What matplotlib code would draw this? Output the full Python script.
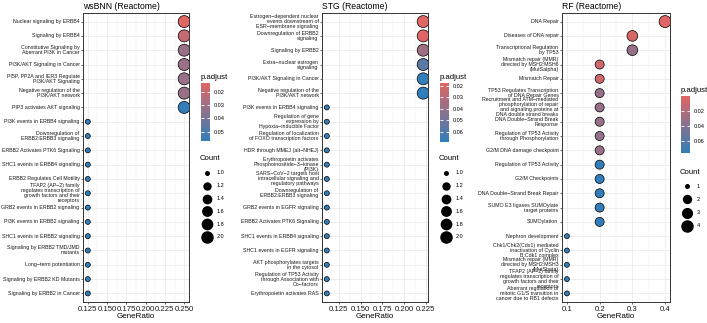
import numpy as np
import matplotlib
matplotlib.use("Agg")
import matplotlib.pyplot as plt
from matplotlib.colors import LinearSegmentedColormap, Normalize
from matplotlib.cm import ScalarMappable

plt.rcParams['font.family'] = ['Liberation Sans', 'DejaVu Sans']

# ---- wsBNN panel ----
ws_terms = [
    "Nuclear signaling by ERBB4",
    "Signaling by ERBB4",
    "Constitutive Signaling by\nAberrant PI3K in Cancer",
    "PI3K/AKT Signaling in Cancer",
    "PI5P, PP2A and IER3 Regulate\nPI3K/AKT Signaling",
    "Negative regulation of the\nPI3K/AKT network",
    "PIP3 activates AKT signaling",
    "PI3K events in ERBB4 signaling",
    "Downregulation of\nERBB2:ERBB3 signaling",
    "ERBB2 Activates PTK6 Signaling",
    "SHC1 events in ERBB4 signaling",
    "ERBB2 Regulates Cell Motility",
    "TFAP2 (AP\u22122) family\nregulates transcription of\ngrowth factors and their\nreceptors",
    "GRB2 events in ERBB2 signaling",
    "PI3K events in ERBB2 signaling",
    "SHC1 events in ERBB2 signaling",
    "Signaling by ERBB2 TMD/JMD\nmutants",
    "Long\u2212term potentiation",
    "Signaling by ERBB2 KD Mutants",
    "Signaling by ERBB2 in Cancer",
]
ws_ratio = [0.25, 0.25, 0.25, 0.25, 0.25, 0.25, 0.25,
            0.125, 0.125, 0.125, 0.125, 0.125, 0.125, 0.125,
            0.125, 0.125, 0.125, 0.125, 0.125, 0.125]
ws_count = [2, 2, 2, 2, 2, 2, 2, 1, 1, 1, 1, 1, 1, 1, 1, 1, 1, 1, 1, 1]
ws_padj = [0.0132, 0.0198, 0.031, 0.031, 0.031, 0.031, 0.0571,
           0.0571, 0.0571, 0.0571, 0.0571, 0.0571, 0.0571, 0.0571,
           0.0571, 0.0571, 0.0571, 0.0571, 0.0571, 0.0571]
ws_xticks = [0.125, 0.150, 0.175, 0.200, 0.225, 0.250]
ws_cbticks = [0.02, 0.03, 0.04, 0.05]
ws_breaks = [1.0, 1.2, 1.4, 1.6, 1.8, 2.0]

# ---- STG panel ----
stg_terms = [
    "Estrogen\u2212dependent nuclear\nevents downstream of\nESR\u2212membrane signaling",
    "Downregulation of ERBB2\nsignaling",
    "Signaling by ERBB2",
    "Extra\u2212nuclear estrogen\nsignaling",
    "PI3K/AKT Signaling in Cancer",
    "Negative regulation of the\nPI3K/AKT network",
    "PI3K events in ERBB4 signaling",
    "Regulation of gene\nexpression by\nHypoxia\u2212inducible Factor",
    "Regulation of localization\nof FOXO transcription factors",
    "HDR through MMEJ (alt\u2212NHEJ)",
    "Erythropoietin activates\nPhosphoinositide\u22123\u2212kinase\n(PI3K)",
    "SARS\u2212CoV\u22122 targets host\nintracellular signaling and\nregulatory pathways",
    "Downregulation of\nERBB2:ERBB3 signaling",
    "GRB2 events in EGFR signaling",
    "ERBB2 Activates PTK6 Signaling",
    "SHC1 events in ERBB4 signaling",
    "SHC1 events in EGFR signaling",
    "AKT phosphorylates targets\nin the cytosol",
    "Regulation of TP53 Activity\nthrough Association with\nCo\u2212factors",
    "Erythropoietin activates RAS",
]
stg_ratio = [0.2222, 0.2222, 0.2222, 0.2222, 0.2222, 0.2222,
             0.1111, 0.1111, 0.1111, 0.1111, 0.1111, 0.1111, 0.1111,
             0.1111, 0.1111, 0.1111, 0.1111, 0.1111, 0.1111, 0.1111]
stg_count = [2, 2, 2, 2, 2, 2, 1, 1, 1, 1, 1, 1, 1, 1, 1, 1, 1, 1, 1, 1]
stg_padj = [0.0174, 0.018, 0.037, 0.057, 0.0687, 0.0687,
            0.0687, 0.0687, 0.0687, 0.0687, 0.0687, 0.0687, 0.0687,
            0.0687, 0.0687, 0.0687, 0.0687, 0.0687, 0.0687, 0.0687]
stg_xticks = [0.125, 0.150, 0.175, 0.200, 0.225]
stg_cbticks = [0.02, 0.03, 0.04, 0.05, 0.06]
stg_breaks = [1.0, 1.2, 1.4, 1.6, 1.8, 2.0]

# ---- RF panel ----
rf_terms = [
    "DNA Repair",
    "Diseases of DNA repair",
    "Transcriptional Regulation\nby TP53",
    "Mismatch repair (MMR)\ndirected by MSH2:MSH6\n(MutSalpha)",
    "Mismatch Repair",
    "TP53 Regulates Transcription\nof DNA Repair Genes",
    "Recruitment and ATM\u2212mediated\nphosphorylation of repair\nand signaling proteins at\nDNA double strand breaks",
    "DNA Double\u2212Strand Break\nResponse",
    "Regulation of TP53 Activity\nthrough Phosphorylation",
    "G2/M DNA damage checkpoint",
    "Regulation of TP53 Activity",
    "G2/M Checkpoints",
    "DNA Double\u2212Strand Break Repair",
    "SUMO E3 ligases SUMOylate\ntarget proteins",
    "SUMOylation",
    "Nephron development",
    "Chk1/Chk2(Cds1) mediated\ninactivation of Cyclin\nB:Cdk1 complex",
    "Mismatch repair (MMR)\ndirected by MSH2:MSH3\n(MutSbeta)",
    "TFAP2 (AP\u22122) family\nregulates transcription of\ngrowth factors and their\nreceptors",
    "Aberrant regulation of\nmitotic G1/S transition in\ncancer due to RB1 defects",
]
rf_ratio = [0.4, 0.3, 0.3, 0.2, 0.2, 0.2, 0.2, 0.2, 0.2, 0.2,
            0.2, 0.2, 0.2, 0.2, 0.2, 0.1, 0.1, 0.1, 0.1, 0.1]
rf_count = [4, 3, 3, 2, 2, 2, 2, 2, 2, 2, 2, 2, 2, 2, 2, 1, 1, 1, 1, 1]
rf_padj = [0.0004, 0.005, 0.033, 0.008, 0.008, 0.032, 0.032, 0.032, 0.032, 0.032,
           0.0764, 0.0764, 0.0764, 0.0764, 0.0764, 0.0764, 0.0764, 0.0764, 0.0764, 0.0764]
rf_xticks = [0.1, 0.2, 0.3, 0.4]
rf_cbticks = [0.02, 0.04, 0.06]
rf_breaks = [1, 2, 3, 4]

W, H = 707, 323
fig = plt.figure(figsize=(W / 100, H / 100), dpi=100)
cmap = LinearSegmentedColormap.from_list("padj", ["#e06663", "#327eba"])


def box(l, t, r, b):
    return [l / W, 1 - b / H, (r - l) / W, (b - t) / H]


def dot_area(c, cmin, cmax, dmax=12):
    # ggplot-like area scale: diameter in px from 5 to dmax
    t = (np.asarray(c, float) - cmin) / (cmax - cmin)
    d = 5 + np.sqrt(t) * (dmax - 5)
    return (d * 0.72) ** 2


def panel(ax_px, cb_px, leg_px, title, terms, ratio, count, padj,
          xticks, xfmt, cbticks, breaks, leg_step):
    ax = fig.add_axes(box(*ax_px))
    n = len(terms)
    ypos = np.arange(n)[::-1]
    cmin, cmax = min(count), max(count)
    norm = Normalize(min(padj), max(padj))
    ax.scatter(ratio, ypos, s=dot_area(count, cmin, cmax), c=padj, cmap=cmap,
               norm=norm, edgecolors="black", linewidths=0.5, zorder=3)
    lo, hi = min(ratio), max(ratio)
    pad = 0.05 * (hi - lo)
    ax.set_xlim(lo - pad, hi + pad)
    ax.set_ylim(-0.6, n - 0.4)
    ax.set_xticks(xticks)
    ax.set_xticklabels([xfmt.format(v) for v in xticks])
    mids = [(a + b) / 2 for a, b in zip(xticks[:-1], xticks[1:])]
    ax.set_xticks(mids, minor=True)
    ax.set_yticks(ypos)
    ax.set_yticklabels(terms)
    for lab in ax.get_yticklabels():
        lab.set_linespacing(1.0)
        lab.set_verticalalignment("center")
    ax.set_axisbelow(True)
    ax.grid(which="major", color="#EBEBEB", lw=0.6)
    ax.grid(which="minor", axis="x", color="#EBEBEB", lw=0.3)
    ax.tick_params(axis="y", labelsize=3.8, length=1.5, width=0.5,
                   color="#333333", labelcolor="#1a1a1a", pad=1)
    ax.tick_params(axis="x", labelsize=5.6, length=1.5, width=0.5,
                   color="#333333", labelcolor="#1a1a1a", pad=1.2)
    ax.tick_params(which="minor", length=0)
    for sp in ax.spines.values():
        sp.set_color("#333333")
        sp.set_linewidth(0.7)
    ax.set_title(title, fontsize=6.2, pad=3, loc="left")
    ax.set_xlabel("GeneRatio", fontsize=5.75, labelpad=0.5)

    # colour bar
    cax = fig.add_axes(box(*cb_px))
    cb = fig.colorbar(ScalarMappable(norm=norm, cmap=cmap), cax=cax)
    cb.outline.set_visible(False)
    cax.invert_yaxis()
    cb.set_ticks(cbticks)
    cb.set_ticklabels(["{:.2f}".format(v) for v in cbticks])
    cax.yaxis.set_ticks_position("both")
    cax.tick_params(direction="in", color="white", length=2.2, width=0.6,
                    labelsize=4.0, pad=3, labelright=True, labelleft=False)
    cax.text(0, 1.04, "p.adjust", transform=cax.transAxes, fontsize=5.6,
             ha="left", va="bottom")

    # size legend
    lx, ly = leg_px
    fig.text(lx / W, 1 - ly / H, "Count", fontsize=5.6, ha="left", va="center")
    for i, b in enumerate(breaks):
        yy = ly + 14 + i * leg_step
        fig.add_artist(plt.Line2D([(lx + 7) / W], [1 - yy / H], marker="o",
                                  markersize=np.sqrt(dot_area(b, min(breaks), max(breaks), 12.5)),
                                  color="black", markeredgewidth=0,
                                  linestyle="none", transform=fig.transFigure))
        lab = "{:.1f}".format(b) if isinstance(b, float) else str(b)
        fig.text((lx + 17) / W, 1 - yy / H, lab, fontsize=4.0, ha="left", va="center")
    return ax


panel((83, 13, 189, 302), (201, 83, 210, 141), (200, 159), "wsBNN (Reactome)",
      ws_terms, ws_ratio, ws_count, ws_padj, ws_xticks, "{:.3f}", ws_cbticks, ws_breaks, 12.8)
panel((322, 13, 428, 302), (440, 83, 449, 142), (439, 159), "STG (Reactome)",
      stg_terms, stg_ratio, stg_count, stg_padj, stg_xticks, "{:.3f}", stg_cbticks, stg_breaks, 12.8)
panel((562, 13, 670, 302), (681, 96, 690, 153), (680, 172), "RF (Reactome)",
      rf_terms, rf_ratio, rf_count, rf_padj, rf_xticks, "{:.1f}", rf_cbticks, rf_breaks, 13.3)

fig.savefig("out.png", dpi=100)
